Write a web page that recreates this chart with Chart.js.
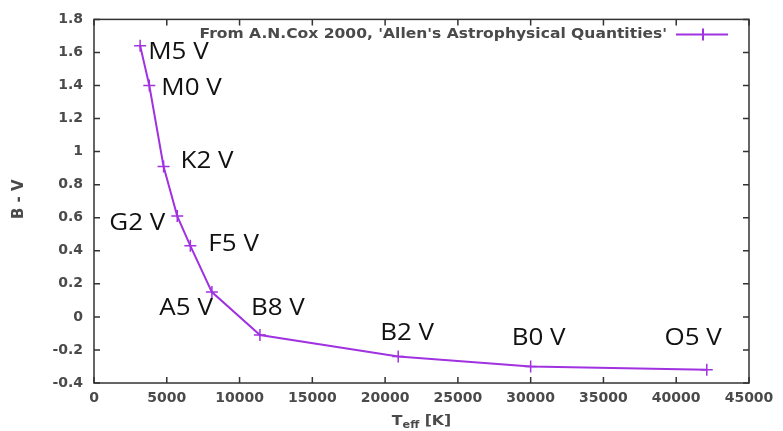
<!DOCTYPE html>
<html>
<head>
<meta charset="utf-8">
<script src="https://cdn.jsdelivr.net/npm/chart.js@4"></script>
<style>
  html, body { margin: 0; padding: 0; background: #fff; overflow: hidden; }
</style>
</head>
<body>
<canvas id="bv-chart" width="783" height="431"></canvas>
<script>
// DATA //

const spectralTypes = ['M5 V', 'M0 V', 'K2 V', 'G2 V', 'F5 V', 'A5 V', 'B8 V', 'B2 V', 'B0 V', 'O5 V'];
const teff = [3170, 3800, 4780, 5720, 6620, 8100, 11400, 20900, 30000, 42100];
const bMinusV = [1.64, 1.40, 0.91, 0.61, 0.43, 0.15, -0.11, -0.24, -0.30, -0.32];
const seriesName = "From A.N.Cox 2000, 'Allen's Astrophysical Quantities'";

const xTicks = [0, 5000, 10000, 15000, 20000, 25000, 30000, 35000, 40000, 45000];
const yTicks = [-0.4, -0.2, 0, 0.2, 0.4, 0.6, 0.8, 1, 1.2, 1.4, 1.6, 1.8];

// STYLE //

const purple = '#a032e0';
const axisGrey = '#4a4a4a';
const tickFont = { family: 'DejaVu Sans', size: 14, weight: 'bold' };

// label offsets from their point, in px: [dx, dy, align]
const labelOffsets = [
    [8, 7, 'left'],
    [12, 3, 'left'],
    [17, -5, 'left'],
    [-12, 7, 'right'],
    [18, -1, 'left'],
    [1, 16, 'right'],
    [-9, -27, 'left'],
    [-18, -23, 'left'],
    [-19, -28, 'left'],
    [15, -31, 'right']
];

// text drawn a little wider than the font, like the original picture
function wideText(ctx, text, x, y, align, sx) {
    ctx.save();
    ctx.translate(x, y);
    ctx.scale(sx, 1);
    ctx.textAlign = align;
    ctx.fillText(text, 0, 0);
    ctx.restore();
}

// FRAME + INWARD TICKS //

const framePlugin = {
    id: 'frame',
    afterDatasetsDraw(chart) {
        const { ctx, chartArea: a, scales } = chart;
        const len = 6;
        ctx.save();
        ctx.strokeStyle = '#333';
        ctx.lineWidth = 1.5;
        ctx.strokeRect(a.left, a.top, a.right - a.left, a.bottom - a.top);
        ctx.beginPath();
        xTicks.forEach(v => {
            const px = scales.x.getPixelForValue(v);
            ctx.moveTo(px, a.bottom); ctx.lineTo(px, a.bottom - len);
            ctx.moveTo(px, a.top); ctx.lineTo(px, a.top + len);
        });
        yTicks.forEach(v => {
            const py = scales.y.getPixelForValue(v);
            ctx.moveTo(a.left, py); ctx.lineTo(a.left + len, py);
            ctx.moveTo(a.right, py); ctx.lineTo(a.right - len, py);
        });
        ctx.stroke();
        ctx.restore();
    }
};

// SPECTRAL TYPE LABELS, LEGEND, AXIS TITLES //

const textPlugin = {
    id: 'texts',
    afterDraw(chart) {
        const { ctx, chartArea: a, scales } = chart;
        ctx.save();

        // spectral types
        ctx.fillStyle = '#111';
        ctx.font = '23px "Open Sans"';
        ctx.textBaseline = 'middle';
        spectralTypes.forEach((name, i) => {
            const px = scales.x.getPixelForValue(teff[i]);
            const py = scales.y.getPixelForValue(bMinusV[i]);
            const [dx, dy, align] = labelOffsets[i];
            wideText(ctx, name, px + dx, py + dy, align, 1.13);
        });

        // legend
        const ly = a.top + 15;
        ctx.font = 'bold 14px "DejaVu Sans"';
        ctx.fillStyle = axisGrey;
        wideText(ctx, seriesName, a.right - 82, ly, 'right', 1.11);
        ctx.strokeStyle = purple;
        ctx.lineWidth = 2;
        ctx.beginPath();
        ctx.moveTo(a.right - 73, ly); ctx.lineTo(a.right - 21, ly);
        ctx.moveTo(a.right - 46, ly - 6); ctx.lineTo(a.right - 46, ly + 6);
        ctx.stroke();

        // y title
        ctx.fillStyle = axisGrey;
        ctx.font = 'bold 15px "DejaVu Sans"';
        ctx.save();
        ctx.translate(19, (a.top + a.bottom) / 2 - 2);
        ctx.rotate(-Math.PI / 2);
        ctx.textAlign = 'center';
        ctx.fillText('B - V', 0, 0);
        ctx.restore();

        // x title with subscript
        const cx = (a.left + a.right) / 2;
        const ty = a.bottom + 38;
        const sx = 1.12;
        ctx.textAlign = 'left';
        ctx.font = 'bold 14px "DejaVu Sans"';
        const wT = ctx.measureText('T').width * sx;
        const wK = ctx.measureText(' [K]').width * sx;
        ctx.font = 'bold 10px "DejaVu Sans"';
        const wE = ctx.measureText('eff').width * sx;
        const x0 = cx - (wT + wE + wK) / 2;
        ctx.font = 'bold 14px "DejaVu Sans"';
        wideText(ctx, 'T', x0, ty, 'left', sx);
        ctx.font = 'bold 10px "DejaVu Sans"';
        wideText(ctx, 'eff', x0 + wT, ty + 4, 'left', sx);
        ctx.font = 'bold 14px "DejaVu Sans"';
        wideText(ctx, ' [K]', x0 + wT + wE, ty, 'left', sx);

        ctx.restore();
    }
};

// CHART //

const bvCanvas = document.getElementById('bv-chart');

const bvData = {
    datasets: [{
        label: seriesName,
        data: teff.map((t, i) => ({ x: t, y: bMinusV[i] })),
        borderColor: purple,
        backgroundColor: purple,
        borderWidth: 2,
        pointStyle: 'cross',
        pointRadius: 6,
        pointBorderWidth: 1.5,
        tension: 0
    }]
};

const bvOptions = {
    responsive: false,
    animation: false,
    layout: {
        padding: { top: 16, right: 34, left: 0, bottom: 0 }
    },
    scales: {
        x: {
            type: 'linear',
            min: 0,
            max: 45000,
            afterFit: s => { s.height = 48; },
            afterBuildTicks: s => { s.ticks = xTicks.map(v => ({ value: v })); },
            grid: { display: false, drawTicks: false },
            border: { display: false },
            ticks: {
                padding: 7,
                color: axisGrey,
                font: tickFont,
                maxRotation: 0,
                autoSkip: false,
                callback: v => String(v)
            }
        },
        y: {
            type: 'linear',
            min: -0.4,
            max: 1.8,
            afterFit: s => { s.width = 94; },
            afterBuildTicks: s => { s.ticks = yTicks.map(v => ({ value: v })); },
            grid: { display: false, drawTicks: false },
            border: { display: false },
            ticks: {
                padding: 11,
                color: axisGrey,
                font: tickFont,
                autoSkip: false,
                callback: v => String(v)
            }
        }
    },
    plugins: {
        legend: { display: false },
        tooltip: { enabled: false }
    }
};

const bvChart = new Chart(bvCanvas, {
    type: 'line',
    data: bvData,
    options: bvOptions,
    plugins: [framePlugin, textPlugin]
});
</script>
</body>
</html>
